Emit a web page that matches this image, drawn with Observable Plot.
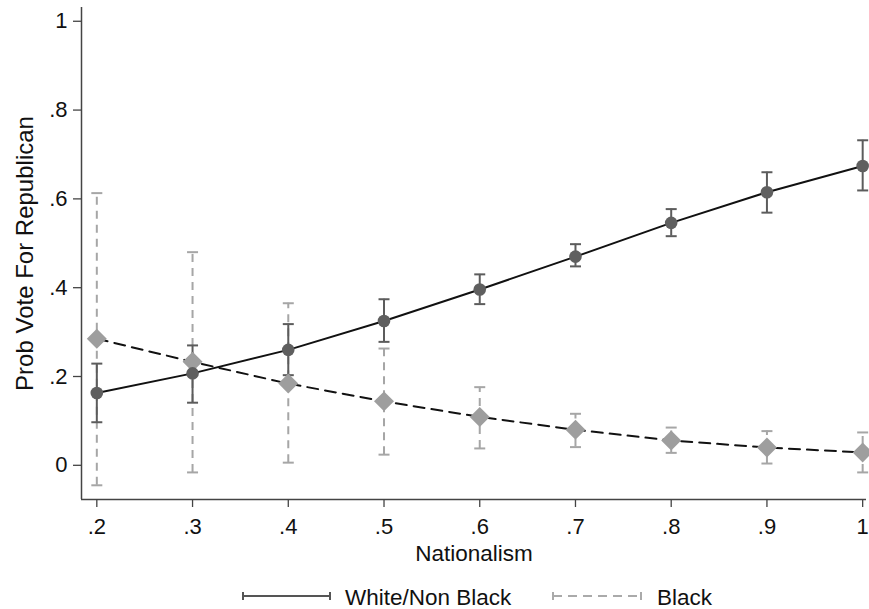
<!DOCTYPE html>
<html>
<head>
<meta charset="utf-8">
<script src="https://cdn.jsdelivr.net/npm/d3@7"></script>
<script src="https://cdn.jsdelivr.net/npm/@observablehq/plot@0.6"></script>
<style>
  body { margin: 0; background: #fff; font-family: "Liberation Sans", Arial, sans-serif; }
  #chart svg { display: block; }
  #legend { display: block; }
</style>
</head>
<body>
<div id="chart"></div>
<svg id="legend" width="869" height="39"></svg>
<script>
// ---- data ----
const nationalism = [0.2, 0.3, 0.4, 0.5, 0.6, 0.7, 0.8, 0.9, 1.0];
const whiteProb = [0.163, 0.207, 0.260, 0.325, 0.396, 0.470, 0.546, 0.615, 0.674];
const whiteLow  = [0.097, 0.141, 0.203, 0.278, 0.363, 0.448, 0.516, 0.569, 0.619];
const whiteHigh = [0.229, 0.270, 0.318, 0.374, 0.430, 0.498, 0.577, 0.660, 0.732];
const blackProb = [0.285, 0.233, 0.184, 0.144, 0.109, 0.080, 0.056, 0.040, 0.029];
const blackLow  = [-0.045, -0.016, 0.006, 0.024, 0.038, 0.041, 0.028, 0.004, -0.016];
const blackHigh = [0.613, 0.480, 0.365, 0.263, 0.176, 0.116, 0.085, 0.077, 0.074];
const xTicks = [0.2, 0.3, 0.4, 0.5, 0.6, 0.7, 0.8, 0.9, 1.0];
const yTicks = [0, 0.2, 0.4, 0.6, 0.8, 1.0];
const seriesNames = ["White/Non Black", "Black"];
const xDomain = [0.184, 1.004];
const yDomain = [-0.077, 1.031];

const white = nationalism.map((x, i) => ({x, p: whiteProb[i], lo: whiteLow[i], hi: whiteHigh[i]}));
const black = nationalism.map((x, i) => ({x, p: blackProb[i], lo: blackLow[i], hi: blackHigh[i]}));

const fmt = d => d === 0 ? "0" : d === 1 ? "1" : String(+d.toFixed(1)).replace(/^0\./, ".");

const capSymbol = {
  draw(ctx, size) {
    const r = 5.5;
    ctx.moveTo(-r, 0);
    ctx.lineTo(r, 0);
  }
};

const whiteCI = "#5c5c5c";
const whiteDot = "#5f5f5f";
const blackCI = "#a6a6a6";
const blackDot = "#9e9e9e";
const font = "'Liberation Sans', Arial, sans-serif";

const chart = Plot.plot({
  width: 869,
  height: 570,
  marginTop: 7,
  marginLeft: 81,
  marginRight: 3,
  marginBottom: 71,
  style: {fontFamily: font, fontSize: "22px", color: "#111", background: "#fff"},
  x: {domain: xDomain},
  y: {domain: yDomain},
  marks: [
    Plot.ruleX([xDomain[0]], {stroke: "#444", strokeWidth: 1.5}),
    Plot.ruleY([yDomain[0]], {stroke: "#444", strokeWidth: 1.5}),
    Plot.axisX({ticks: xTicks, tickFormat: fmt, tickSize: 8, tickPadding: 11, stroke: "#444", strokeWidth: 1.3,
      label: null, fontSize: 22}),
    Plot.axisX({ticks: [], label: "Nationalism", labelAnchor: "center", labelOffset: 61, labelArrow: "none", fontSize: 22.5}),
    Plot.axisY({ticks: yTicks, tickFormat: fmt, tickSize: 8, tickPadding: 6, stroke: "#444", strokeWidth: 1.3,
      label: null, fontSize: 22}),
    Plot.axisY({ticks: [], label: "Prob Vote For Republican", labelAnchor: "center", labelOffset: 66, labelArrow: "none", fontSize: 24}),
    // Black CIs (dashed)
    Plot.ruleX(black, {x: "x", y1: "lo", y2: "hi", stroke: blackCI, strokeWidth: 2, strokeDasharray: "8,6"}),
    Plot.dot(black, {x: "x", y: "lo", symbol: capSymbol, stroke: blackCI, strokeWidth: 2, r: 5}),
    Plot.dot(black, {x: "x", y: "hi", symbol: capSymbol, stroke: blackCI, strokeWidth: 2, r: 5}),
    // White CIs
    Plot.ruleX(white, {x: "x", y1: "lo", y2: "hi", stroke: whiteCI, strokeWidth: 2}),
    Plot.dot(white, {x: "x", y: "lo", symbol: capSymbol, stroke: whiteCI, strokeWidth: 2, r: 5}),
    Plot.dot(white, {x: "x", y: "hi", symbol: capSymbol, stroke: whiteCI, strokeWidth: 2, r: 5}),
    // lines
    Plot.line(white, {x: "x", y: "p", stroke: "#111", strokeWidth: 2}),
    Plot.line(black, {x: "x", y: "p", stroke: "#111", strokeWidth: 2, strokeDasharray: "11,7"}),
    // points
    Plot.dot(black, {x: "x", y: "p", fill: blackDot, r: 9, symbol: "diamond2"}),
    Plot.dot(white, {x: "x", y: "p", fill: whiteDot, r: 6.3, symbol: "circle"})
  ]
});
document.getElementById("chart").appendChild(chart);

// ---- legend ----
const lg = d3.select("#legend");
const items = [
  {name: seriesNames[0], x0: 243, x1: 330, color: "#555", dash: null, tx: 345},
  {name: seriesNames[1], x0: 553, x1: 641, color: "#aaa", dash: "9,6", tx: 657}
];
const ly = 26;
items.forEach(it => {
  lg.append("line").attr("x1", it.x0).attr("x2", it.x1).attr("y1", ly).attr("y2", ly)
    .attr("stroke", it.color).attr("stroke-width", 2).attr("stroke-dasharray", it.dash);
  [it.x0, it.x1].forEach(xx => lg.append("line").attr("x1", xx).attr("x2", xx)
    .attr("y1", ly - 4).attr("y2", ly + 4).attr("stroke", it.color).attr("stroke-width", 2));
  lg.append("text").attr("x", it.tx).attr("y", ly + 9).attr("font-size", 22.5)
    .attr("font-family", font).attr("fill", "#111").text(it.name);
});
</script>
</body>
</html>
